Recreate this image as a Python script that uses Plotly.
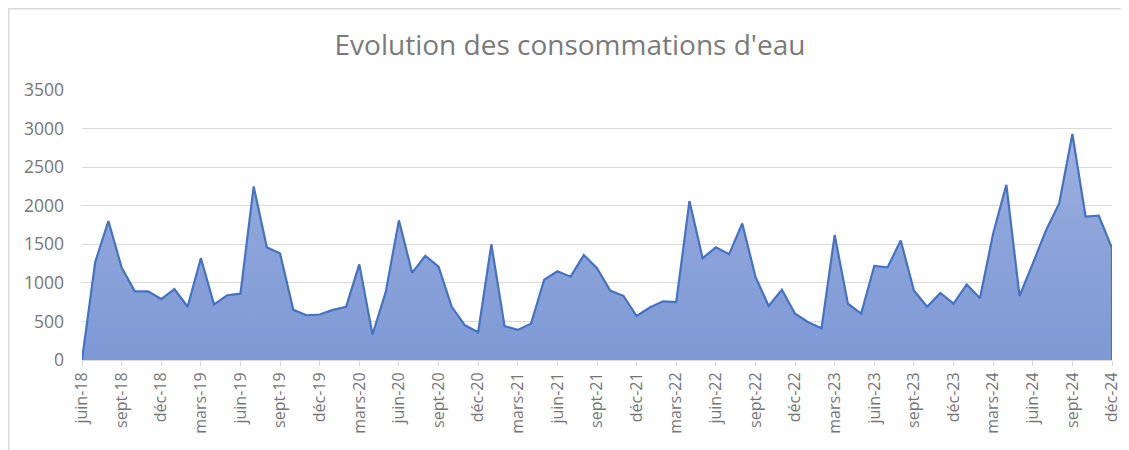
import plotly.graph_objects as go

months_fr = ["janv", "févr", "mars", "avr", "mai", "juin", "juil", "août", "sept", "oct", "nov", "déc"]

# Monthly categories June 2018 .. December 2024
categories = []
for yr in range(2018, 2025):
    for m in range(12):
        if yr == 2018 and m < 5:
            continue
        categories.append(f"{months_fr[m]}-{str(yr)[2:]}")

values_2018 = [0, 1270, 1800, 1200, 890, 890, 790]
values_2019 = [920, 690, 1320, 720, 840, 860, 2250, 1460, 1380, 650, 580, 590]
values_2020 = [650, 690, 1240, 330, 880, 1810, 1130, 1350, 1210, 690, 450, 360]
values_2021 = [1500, 440, 390, 470, 1040, 1150, 1080, 1360, 1190, 900, 830, 570]
values_2022 = [680, 760, 750, 2060, 1320, 1460, 1370, 1770, 1080, 700, 910, 600]
values_2023 = [490, 410, 1620, 730, 600, 1220, 1200, 1550, 900, 690, 870, 730]
values_2024 = [980, 800, 1640, 2270, 830, 1250, 1680, 2030, 2930, 1860, 1870, 1450]

values = values_2018 + values_2019 + values_2020 + values_2021 + values_2022 + values_2023 + values_2024

y_ticks = [0, 500, 1000, 1500, 2000, 2500, 3000, 3500]

idx = list(range(len(categories)))
tick_idx = idx[::3]
tick_text = [categories[i] for i in tick_idx]

fig = go.Figure()
fig.add_trace(go.Scatter(
    x=idx, y=values, mode="lines",
    line=dict(color="#4472C4", width=2.2),
    fill="tozeroy",
    fillgradient=dict(type="vertical", start=0, stop=3500,
                      colorscale=[[0, "#7E99D5"], [0.5, "#8EA5DA"], [1, "#A9B9E2"]]),
    hoverinfo="skip",
))
# closing vertical edge at the last point
fig.add_trace(go.Scatter(
    x=[idx[-1], idx[-1]], y=[0, values[-1]], mode="lines",
    line=dict(color="#4472C4", width=2.2), hoverinfo="skip", showlegend=False,
))

font_family = "Open Sans, DejaVu Sans, sans-serif"

W, H = 1121, 442
L, R, T, B = 74, 17, 82, 90
PW, PH = W - L - R, H - T - B

fig.update_layout(
    width=W, height=H,
    margin=dict(l=L, r=R, t=T, b=B),
    paper_bgcolor="white", plot_bgcolor="white",
    showlegend=False,
    title=dict(text="Evolution des consommations d'eau", x=562/W, xref="container", xanchor="center",
               y=1-37/H, yref="container", yanchor="middle",
               font=dict(family=font_family, size=28, color="#7A7A7A")),
    xaxis=dict(
        range=[0, len(categories) - 1], automargin=False,
        tickmode="array", tickvals=tick_idx, ticktext=tick_text,
        tickangle=-90, ticks="outside", ticklen=5, tickcolor="#D9D9D9",
        showgrid=False, showline=True, linecolor="#D9D9D9", linewidth=1,
        tickfont=dict(family=font_family, size=16, color="#767676"),
        zeroline=False,
    ),
    yaxis=dict(
        range=[0, 3500], tickmode="array", tickvals=y_ticks, automargin=False,
        showgrid=True, gridcolor="#D9D9D9", gridwidth=1,
        zeroline=False, showline=False,
        ticks="", ticklabelstandoff=17,
        tickfont=dict(family=font_family, size=17.5, color="#767676"),
    ),
    shapes=[
        dict(type="line", xref="paper", yref="paper", x0=(0.5 - L)/PW, x1=1.2,
             y0=1 + (T - 0.5)/PH, y1=1 + (T - 0.5)/PH,
             line=dict(color="#D9D9D9", width=2)),
        dict(type="line", xref="paper", yref="paper", x0=(0.5 - L)/PW, x1=(0.5 - L)/PW,
             y0=1 + (T - 0.5)/PH, y1=-0.4,
             line=dict(color="#D9D9D9", width=2)),
    ],
)

fig.write_html("out.html")
